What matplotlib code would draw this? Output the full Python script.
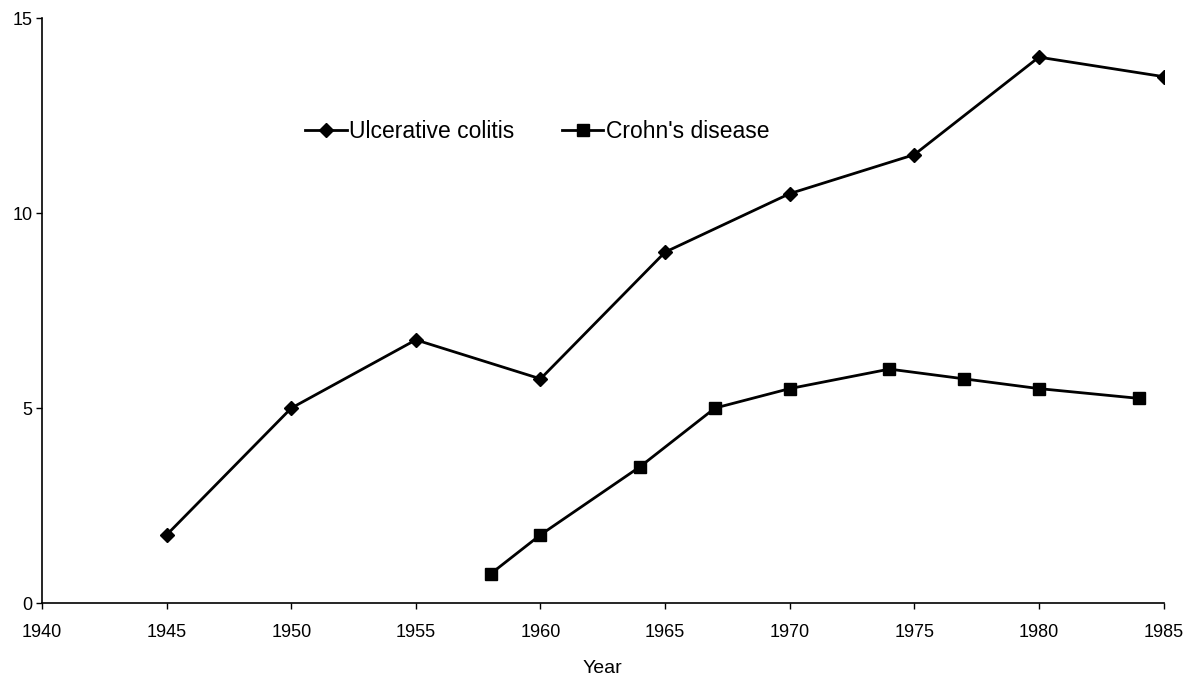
import matplotlib
matplotlib.use("Agg")
from matplotlib import pyplot as plt

# values
uc_years = [1945, 1950, 1955, 1960, 1965, 1970, 1975, 1980, 1985]
uc_values = [1.75, 5.0, 6.75, 5.75, 9.0, 10.5, 11.5, 14.0, 13.5]

cd_years = [1958, 1960, 1964, 1967, 1970, 1974, 1977, 1980, 1984]
cd_values = [0.75, 1.75, 3.5, 5.0, 5.5, 6.0, 5.75, 5.5, 5.25]

x_ticks = [1940, 1945, 1950, 1955, 1960, 1965, 1970, 1975, 1980, 1985]
y_ticks = [0, 5, 10, 15]

plt.rcParams['font.family'] = ['Liberation Sans', 'DejaVu Sans']

fig = plt.figure(figsize=(12.02, 6.98), dpi=100)
ax = fig.add_axes([0.035, 0.136, 0.933, 0.838])

ax.plot(uc_years, uc_values, color='black', lw=2, marker='D', markersize=7,
        label='Ulcerative colitis')
ax.plot(cd_years, cd_values, color='black', lw=2, marker='s', markersize=9,
        label="Crohn's disease")

ax.set_xlim(1940, 1985)
ax.set_ylim(0, 15)
ax.set_xticks(x_ticks)
ax.set_yticks(y_ticks)
ax.tick_params(labelsize=13, length=4, width=1, direction='out')
ax.tick_params(axis='x', pad=11)
ax.tick_params(axis='y', pad=3)

for side in ['top', 'right']:
    ax.spines[side].set_visible(False)
for side in ['left', 'bottom']:
    ax.spines[side].set_linewidth(1.2)

ax.set_xlabel('Year', fontsize=14, labelpad=14)

fig.legend(loc='center', bbox_to_anchor=(0.447, 0.811), ncol=2, frameon=False,
           fontsize=16.5, handlelength=1.8, handletextpad=0.1, columnspacing=2.1)

fig.savefig('out.png', dpi=100, facecolor='white')
